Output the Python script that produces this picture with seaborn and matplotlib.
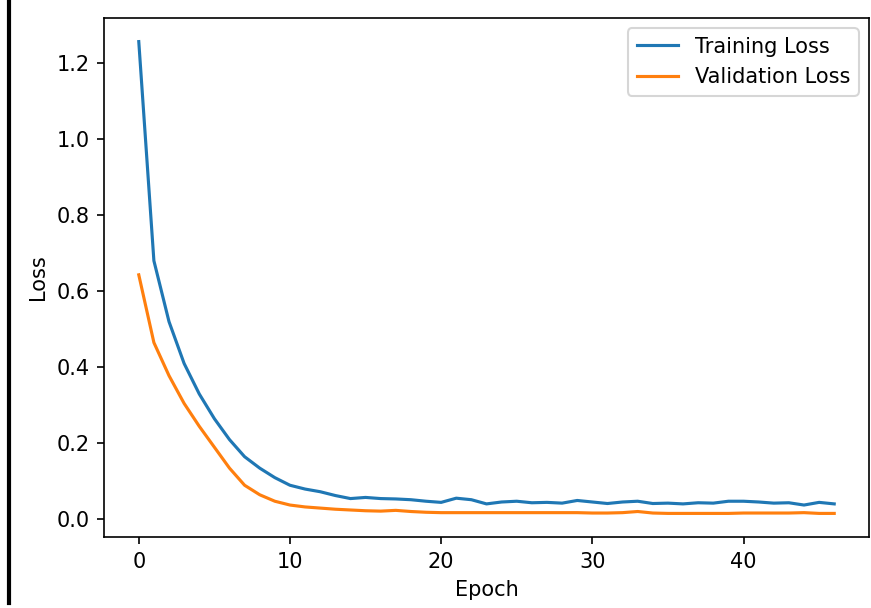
import matplotlib
matplotlib.use("Agg")
import matplotlib.pyplot as plt
from matplotlib.lines import Line2D
import seaborn as sns
import pandas as pd

epochs = list(range(47))
training_loss = [1.256, 0.68, 0.52, 0.41, 0.33, 0.265, 0.21, 0.165, 0.135, 0.11,
                 0.09, 0.08, 0.073, 0.063, 0.055, 0.058, 0.055, 0.054, 0.052, 0.048,
                 0.045, 0.056, 0.052, 0.041, 0.046, 0.048, 0.044, 0.045, 0.043, 0.050,
                 0.046, 0.042, 0.046, 0.048, 0.042, 0.043, 0.041, 0.044, 0.043, 0.048,
                 0.048, 0.046, 0.043, 0.044, 0.038, 0.045, 0.041]
validation_loss = [0.643, 0.465, 0.378, 0.305, 0.245, 0.19, 0.135, 0.09, 0.065, 0.048,
                   0.038, 0.033, 0.030, 0.027, 0.025, 0.023, 0.022, 0.024, 0.021, 0.019,
                   0.018, 0.018, 0.018, 0.018, 0.018, 0.018, 0.018, 0.018, 0.018, 0.018,
                   0.017, 0.017, 0.018, 0.021, 0.017, 0.016, 0.016, 0.016, 0.016, 0.016,
                   0.017, 0.017, 0.017, 0.017, 0.018, 0.016, 0.016]
series_names = ["Training Loss", "Validation Loss"]
colors = ["#1f77b4", "#ff7f0e"]

df = pd.DataFrame({
    "Epoch": epochs * 2,
    "Loss": training_loss + validation_loss,
    "Series": [series_names[0]] * len(epochs) + [series_names[1]] * len(epochs),
})

fig = plt.figure(figsize=(871 / 150, 608 / 150), dpi=150)
ax = fig.add_axes([104 / 871, 1 - 537 / 608, (869 - 104) / 871, (537 - 18) / 608])
sns.lineplot(data=df, x="Epoch", y="Loss", hue="Series", palette=colors, ax=ax,
             linewidth=1.5)
ax.legend(loc="upper right")
ax.set_xlabel("Epoch")
ax.set_ylabel("Loss")
ax.set_xticks([0, 10, 20, 30, 40])
ax.set_yticks([0.0, 0.2, 0.4, 0.6, 0.8, 1.0, 1.2])

fig.add_artist(Line2D([9 / 871, 9 / 871], [1 - 603 / 608, 1.0], transform=fig.transFigure,
                      color="black", linewidth=2.0))

fig.savefig("out.png", dpi=150)
